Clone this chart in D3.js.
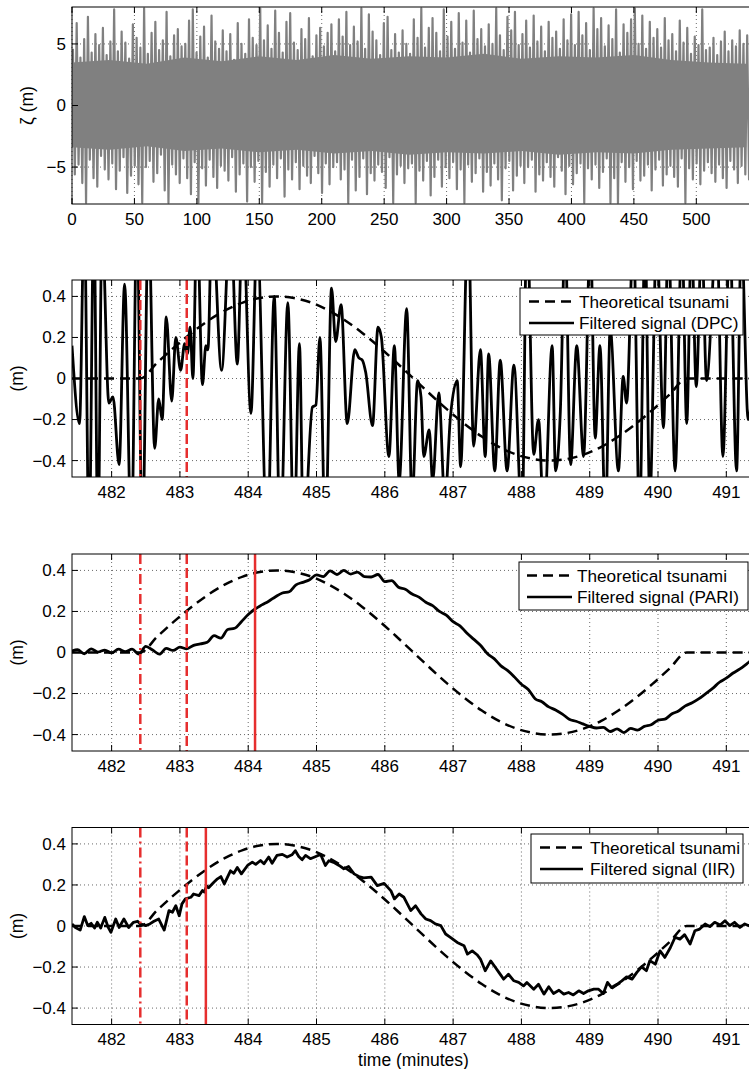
<!DOCTYPE html>
<html>
<head>
<meta charset="utf-8">
<script src="https://cdn.jsdelivr.net/npm/d3@7"></script>
<style>
body { margin: 0; background: #fff; }
text { font-family: "Liberation Sans", Arial, Helvetica, sans-serif; fill: #000; }
</style>
</head>
<body>
<script>
// ---- raw record, envelope per 3 minute bin (max, min)
var noiseBin = 3;
var noiseUpper = [4.6,6.7,3.9,5.4,7.2,4.3,5.8,4.9,6.3,4.1,
  5.2,7.8,4.4,6.0,5.1,3.8,6.6,5.5,4.7,7.9,
  4.2,5.9,6.8,4.5,5.3,7.6,4.0,5.7,6.2,4.8,
  5.0,6.9,7.8,4.3,5.6,6.4,3.9,7.3,5.2,4.6,
  6.1,4.4,5.8,3.7,6.7,5.0,4.2,7.0,5.5,4.9,
  7.9,5.3,6.5,4.6,7.7,5.9,4.3,6.8,7.5,5.1,
  4.5,6.2,5.4,7.1,4.0,5.7,6.3,4.8,5.9,6.6,
  4.4,7.0,5.6,7.6,4.9,6.4,5.2,7.9,4.6,7.4,
  6.0,5.3,4.1,6.7,7.2,4.5,5.8,4.3,6.1,5.0,
  4.2,7.0,5.5,7.9,4.7,6.3,7.1,5.9,4.4,7.8,
  5.6,6.8,4.6,7.5,5.1,6.9,4.3,7.7,5.4,6.2,
  4.8,6.6,5.0,7.9,5.7,4.5,7.2,6.1,7.6,4.9,
  5.8,6.9,4.7,7.3,5.2,6.4,4.4,6.8,5.5,6.0,
  4.6,7.0,5.3,7.4,4.9,7.6,5.7,6.7,4.5,7.9,
  6.2,7.1,4.8,6.5,5.4,7.8,4.3,6.6,5.9,7.0,
  7.9,5.0,7.3,4.6,6.8,5.5,6.2,4.7,7.1,5.3,
  5.8,4.4,6.9,5.1,6.3,4.2,5.6,4.9,7.8,4.5,
  4.7,5.5,4.1,5.2,6.0,4.4,5.3,4.8,6.1,5.0,
  5.7,4.6];
var noiseLower = [-5.6,-4.8,-6.3,-7.9,-4.4,-5.9,-6.6,-4.1,-5.2,-6.0,
  -4.7,-6.8,-5.3,-4.2,-7.1,-5.7,-4.9,-6.4,-7.9,-5.0,
  -4.5,-6.2,-5.5,-4.0,-6.9,-7.9,-4.8,-5.6,-6.3,-4.3,
  -5.9,-7.2,-4.6,-7.9,-5.1,-6.5,-4.4,-5.8,-6.7,-4.9,
  -5.3,-6.1,-4.2,-7.0,-5.6,-4.7,-7.8,-5.0,-6.2,-4.5,
  -7.9,-5.4,-6.6,-4.8,-5.9,-4.3,-7.4,-5.2,-6.0,-4.6,
  -6.8,-4.9,-5.7,-6.3,-4.1,-5.5,-7.1,-4.7,-6.4,-5.0,
  -4.6,-6.0,-5.2,-7.9,-4.4,-6.9,-5.8,-4.3,-7.2,-5.5,
  -6.1,-4.8,-5.4,-6.7,-4.2,-7.9,-5.6,-4.9,-6.3,-5.1,
  -4.7,-7.9,-5.3,-6.1,-4.5,-7.3,-5.8,-4.4,-6.6,-5.0,
  -5.9,-4.6,-6.8,-5.2,-7.9,-4.8,-6.2,-5.5,-4.3,-7.0,
  -5.4,-6.5,-4.7,-6.0,-7.7,-5.1,-4.5,-6.9,-5.7,-4.9,
  -6.3,-5.0,-4.4,-7.0,-5.6,-6.1,-4.6,-5.8,-6.6,-4.2,
  -5.3,-7.2,-4.9,-6.4,-5.5,-4.7,-7.9,-5.1,-6.0,-4.8,
  -6.7,-5.4,-4.3,-7.9,-5.9,-7.9,-4.6,-6.2,-5.0,-6.8,
  -4.5,-6.1,-5.7,-4.8,-6.9,-5.2,-4.4,-6.5,-5.6,-4.9,
  -5.8,-6.6,-4.3,-7.9,-5.1,-6.0,-4.7,-6.4,-5.3,-4.6,
  -5.5,-6.2,-4.8,-5.9,-6.7,-4.5,-5.2,-6.3,-4.9,-5.6,
  -6.0,-5.1];
// solid core of the record, every 30 minutes
var coreStep = 30;
var coreUpper = [3.5,3.7,3.4,3.9,3.6,4.0,3.7,4.1,3.8,4.0,3.9,4.2,3.8,4.0,3.9,4.1,3.7,3.5,3.4];
var coreLower = [-3.4,-3.6,-3.3,-3.7,-3.5,-3.8,-3.6,-3.9,-3.7,-4.0,-3.8,-3.9,-3.7,-4.0,-3.8,-3.9,-3.6,-3.5,-3.4];

// ---- theoretical tsunami
var tsuT = [481.42,482.42,482.67,482.92,483.17,483.42,483.67,483.92,484.17,484.42,
  484.67,484.92,485.17,485.42,485.67,485.92,486.17,486.42,486.67,486.92,487.17,
  487.42,487.67,487.92,488.17,488.42,488.67,488.92,489.17,489.42,489.67,489.92,
  490.17,490.42,491.5];
var tsuV = [0,0,0.078,0.153,0.222,0.283,0.333,0.370,0.392,0.400,
  0.392,0.370,0.333,0.283,0.222,0.153,0.078,0,-0.078,-0.153,-0.222,
  -0.283,-0.333,-0.370,-0.392,-0.400,-0.392,-0.370,-0.333,-0.283,-0.222,-0.153,
  -0.078,0,0];

// ---- filtered signal (DPC), turning points
var dpcT = [481.42,481.53,481.60,481.67,481.74,481.80,481.86,481.96,482.02,482.11,
  482.19,482.29,482.37,482.45,482.54,482.63,482.69,482.74,482.80,482.88,
  482.94,483.01,483.07,483.11,483.15,483.19,483.25,483.33,483.38,483.41,
  483.47,483.61,483.74,483.84,483.92,484.04,484.13,484.28,484.38,484.47,
  484.58,484.67,484.75,484.81,484.94,484.99,485.05,485.13,485.22,485.28,
  485.36,485.45,485.56,485.62,485.67,485.72,485.82,485.90,485.95,486.06,
  486.14,486.21,486.32,486.40,486.48,486.53,486.57,486.65,486.70,486.79,
  486.88,486.96,487.06,487.11,487.22,487.30,487.40,487.47,487.52,487.61,
  487.69,487.79,487.89,488.01,488.08,488.18,488.25,488.33,488.45,488.50,
  488.57,488.64,488.72,488.81,488.91,489.01,489.08,489.15,489.23,489.30,
  489.42,489.49,489.54,489.64,489.73,489.81,489.88,489.98,490.08,490.15,
  490.25,490.35,490.42,490.49,490.56,490.64,490.71,490.86,490.95,491.05,
  491.15,491.22,491.32,491.44];
var dpcV = [0.16,-0.22,0.8,-0.8,0.8,-0.8,0.75,-0.12,-0.09,-0.42,
  0.46,-0.8,0.8,-0.8,0.8,-0.34,-0.1,-0.2,0.30,-0.11,
  0.2,0.04,0.17,0.12,0.25,0.0,0.8,-0.03,0.16,0.14,
  0.8,0.04,0.8,0.07,0.8,-0.17,0.7,-0.8,0.4,-0.8,
  0.37,-0.8,0.17,-0.8,-0.14,-0.13,0.2,-0.8,0.44,0.18,
  0.36,-0.22,0.14,0.1,0.09,0.03,-0.23,0.25,0.2,-0.38,
  0.16,-0.5,0.34,-0.6,-0.01,-0.09,-0.38,-0.25,-0.5,-0.07,
  -0.6,-0.19,-0.01,-0.43,0.8,-0.33,0.14,-0.38,0.12,-0.45,
  0.09,-0.45,0.065,-0.7,0.8,-0.37,-0.2,-0.7,0.16,-0.45,
  -0.16,0.7,-0.42,0.16,-0.38,0.7,-0.29,0.16,-0.7,0.24,
  -0.45,0.01,-0.12,0.7,-0.7,0.7,-0.6,0.7,-0.24,0.7,
  -0.45,0.7,-0.22,0.7,-0.04,0.7,-0.01,0.7,-0.38,0.7,
  -0.45,0.7,-0.2,0.7];

// ---- filtered signal (PARI), every 0.1 min from 481.4
var pariStart = 481.4, pariStep = 0.1;
var pariV = [0.004,0.014,-0.006,0.018,0.002,0.012,-0.002,0.016,0.004,0.016,
  -0.008,0.03,0.012,-0.008,0.02,0.01,0.026,0.018,0.035,0.042,
  0.05,0.082,0.07,0.112,0.118,0.15,0.185,0.212,0.232,0.25,
  0.272,0.29,0.296,0.33,0.342,0.355,0.378,0.37,0.398,0.38,
  0.4,0.382,0.392,0.37,0.368,0.38,0.345,0.35,0.318,0.308,
  0.285,0.27,0.245,0.228,0.2,0.182,0.15,0.13,0.095,0.065,
  0.035,-0.005,-0.03,-0.065,-0.088,-0.12,-0.155,-0.18,-0.225,-0.24,
  -0.265,-0.28,-0.3,-0.325,-0.335,-0.348,-0.36,-0.368,-0.365,-0.385,
  -0.372,-0.39,-0.37,-0.378,-0.36,-0.352,-0.33,-0.325,-0.3,-0.285,
  -0.26,-0.245,-0.225,-0.2,-0.175,-0.145,-0.125,-0.1,-0.08,-0.055,
  -0.03,-0.01];

// ---- filtered signal (IIR)
var iirT = [481.42,481.47,481.54,481.60,481.65,481.70,481.75,481.79,481.84,481.90,
  481.95,481.99,482.06,482.11,482.18,482.25,482.32,482.38,482.42,482.50,
  482.56,482.62,482.69,482.77,482.84,482.89,482.94,482.99,483.03,483.08,
  483.16,483.20,483.28,483.33,483.36,483.39,483.42,483.50,483.55,483.60,
  483.65,483.74,483.79,483.84,483.90,483.99,484.06,484.11,484.18,484.23,
  484.30,484.35,484.42,484.50,484.57,484.64,484.69,484.74,484.79,484.84,
  484.91,484.99,485.06,485.13,485.18,485.25,485.33,485.40,485.47,485.55,
  485.62,485.69,485.80,485.89,485.99,486.09,486.14,486.21,486.28,486.38,
  486.45,486.53,486.60,486.67,486.74,486.82,486.89,486.96,487.06,487.16,
  487.21,487.28,487.35,487.40,487.47,487.55,487.62,487.67,487.74,487.81,
  487.89,487.96,488.03,488.08,488.18,488.25,488.33,488.40,488.47,488.55,
  488.62,488.69,488.76,488.84,488.91,488.98,489.06,489.13,489.20,489.26,
  489.32,489.40,489.47,489.54,489.62,489.69,489.76,489.83,489.88,489.96,
  490.03,490.10,490.18,490.25,490.32,490.39,490.47,490.54,490.61,490.69,
  490.76,490.83,490.91,490.98,491.05,491.12,491.20,491.27,491.32,491.45];
var iirV = [0.010,-0.007,-0.020,0.046,0.002,0.013,-0.010,0.018,-0.010,0.042,
  -0.007,-0.031,0.034,-0.007,0.034,-0.007,0.018,0.023,0.010,0.002,
  0.010,0.023,0.034,-0.020,0.075,0.067,0.099,0.050,0.108,0.132,
  0.140,0.156,0.148,0.173,0.165,0.196,0.186,0.214,0.230,0.241,
  0.205,0.269,0.257,0.285,0.254,0.295,0.311,0.300,0.319,0.303,
  0.336,0.306,0.344,0.349,0.336,0.347,0.367,0.339,0.323,0.344,
  0.328,0.339,0.349,0.295,0.318,0.310,0.295,0.279,0.290,0.254,
  0.241,0.235,0.238,0.197,0.208,0.171,0.132,0.156,0.140,0.075,
  0.099,0.059,0.034,0.026,0.010,0.002,-0.039,-0.055,-0.080,-0.096,
  -0.137,-0.121,-0.140,-0.161,-0.218,-0.170,-0.202,-0.226,-0.259,-0.235,
  -0.267,-0.275,-0.292,-0.275,-0.308,-0.284,-0.332,-0.296,-0.329,-0.313,
  -0.332,-0.324,-0.336,-0.316,-0.329,-0.316,-0.308,-0.308,-0.329,-0.275,
  -0.300,-0.284,-0.267,-0.248,-0.259,-0.226,-0.199,-0.218,-0.169,-0.186,
  -0.121,-0.153,-0.106,-0.055,-0.064,-0.042,-0.088,-0.023,-0.015,0.010,
  -0.003,0.018,0.005,0.026,0.002,0.018,-0.007,0.010,0.002,0.012];

// ---- detection markers (minutes)
var tOnset = 482.42, tArrival = 483.1;
var tDetect = { PARI: 484.1, IIR: 483.38 };

var xTicksFull = [0,50,100,150,200,250,300,350,400,450,500];
var yTicksFull = [-5,0,5];
var xTicksZoom = [482,483,484,485,486,487,488,489,490,491];
var yTicksZoom = [-0.4,-0.2,0,0.2,0.4];

var W = 749, H = 1069;
var left = 72, plotW = 683, plotH = 197;
var tops = [7, 280, 554, 827.5];
var red = '#e62e2e';

var svg = d3.select('body').append('svg')
  .attr('width', W)
  .attr('height', H);

var minus = function(v) { return String(v).replace('-', '\u2212'); };

function frame(i, x, y, xt, yt) {
  var g = svg.append('g').attr('transform', 'translate(' + left + ',' + tops[i] + ')');
  var clip = 'clip' + i;
  g.append('clipPath').attr('id', clip)
    .append('rect').attr('width', plotW).attr('height', plotH);

  var grid = g.append('g')
    .attr('stroke', '#444').attr('stroke-width', 0.8).attr('stroke-dasharray', '1,3');
  grid.selectAll('.gx').data(xt).enter().append('line')
    .attr('x1', function(d) { return x(d); }).attr('x2', function(d) { return x(d); })
    .attr('y1', 0).attr('y2', plotH);
  grid.selectAll('.gy').data(yt).enter().append('line')
    .attr('y1', function(d) { return y(d); }).attr('y2', function(d) { return y(d); })
    .attr('x1', 0).attr('x2', plotW);

  var plot = g.append('g').attr('clip-path', 'url(#' + clip + ')');
  return { g: g, plot: plot };
}

function axesOnTop(f, x, y, xt, yt) {
  var g = f.g;
  g.append('rect').attr('width', plotW).attr('height', plotH)
    .attr('fill', 'none').attr('stroke', '#000').attr('stroke-width', 1);
  var tk = g.append('g').attr('stroke', '#000').attr('stroke-width', 1);
  xt.forEach(function(d) {
    tk.append('line').attr('x1', x(d)).attr('x2', x(d)).attr('y1', plotH).attr('y2', plotH - 6);
    tk.append('line').attr('x1', x(d)).attr('x2', x(d)).attr('y1', 0).attr('y2', 6);
  });
  yt.forEach(function(d) {
    tk.append('line').attr('x1', 0).attr('x2', 6).attr('y1', y(d)).attr('y2', y(d));
    tk.append('line').attr('x1', plotW).attr('x2', plotW - 6).attr('y1', y(d)).attr('y2', y(d));
  });
  g.selectAll('.xl').data(xt).enter().append('text')
    .attr('x', function(d) { return x(d); })
    .attr('y', plotH + 15)
    .attr('dy', '0.35em')
    .style('text-anchor', 'middle')
    .style('font-size', '17px')
    .text(function(d) { return minus(d); });
  g.selectAll('.yl').data(yt).enter().append('text')
    .attr('x', -6)
    .attr('y', function(d) { return y(d); })
    .attr('dy', '0.35em')
    .style('text-anchor', 'end')
    .style('font-size', '17px')
    .text(function(d) { return minus(d); });
}

function ylabel(i, txt, cx) {
  svg.append('text')
    .attr('transform', 'translate(' + cx + ',' + (tops[i] + plotH / 2) + ') rotate(-90)')
    .attr('dy', '0.35em')
    .style('text-anchor', 'middle')
    .style('font-size', '17.5px')
    .text(txt);
}

function legend(box, label) {
  var g = svg.append('g');
  g.append('rect').attr('x', box.x).attr('y', box.y).attr('width', box.w).attr('height', box.h)
    .attr('fill', '#fff').attr('stroke', '#000').attr('stroke-width', 1);
  var rows = [
    { dash: '10,6', text: 'Theoretical tsunami', y: box.y + 13.5 },
    { dash: null, text: label, y: box.y + 35 }
  ];
  rows.forEach(function(r) {
    g.append('line').attr('x1', box.lx1).attr('x2', box.lx2).attr('y1', r.y).attr('y2', r.y)
      .attr('stroke', '#000').attr('stroke-width', 2.5)
      .attr('stroke-dasharray', r.dash);
    g.append('text').attr('x', box.tx).attr('y', r.y).attr('dy', '0.35em')
      .style('font-size', '17.2px').text(r.text);
  });
}

// ---- panel 1: raw record = solid core + oscillation through the bin extremes
var x0 = d3.scaleLinear().domain([0, 547]).range([0, plotW]);
var y0 = d3.scaleLinear().domain([-8, 8]).range([plotH, 0]);
var f0 = frame(0, x0, y0, xTicksFull, yTicksFull);
f0.plot.append('path')
  .datum(coreUpper)
  .attr('fill', '#808080')
  .attr('d', d3.area()
    .x(function(d, i) { return x0(i * coreStep); })
    .y0(function(d, i) { return y0(coreLower[i]); })
    .y1(function(d) { return y0(d); }));
var zig = [];
noiseUpper.forEach(function(u, i) {
  zig.push([i * noiseBin + noiseBin * 0.25, u]);
  zig.push([i * noiseBin + noiseBin * 0.75, noiseLower[i]]);
});
f0.plot.append('path')
  .datum(zig)
  .attr('fill', 'none')
  .attr('stroke', '#808080')
  .attr('stroke-width', 2.2)
  .attr('stroke-linejoin', 'round')
  .attr('d', d3.line().x(function(d) { return x0(d[0]); }).y(function(d) { return y0(d[1]); }));
axesOnTop(f0, x0, y0, xTicksFull, yTicksFull);
ylabel(0, '\u03b6 (m)', 27);

// ---- panels 2-4: zoom on the arrival
var xz = d3.scaleLinear().domain([481.42, 491.42]).range([0, plotW]);
var yz = d3.scaleLinear().domain([-0.48, 0.48]).range([plotH, 0]);

var tsunami = tsuT.map(function(t, i) { return [t, tsuV[i]]; });
var series = [
  { name: 'DPC', data: dpcT.map(function(t, i) { return [t, dpcV[i]]; }), curve: d3.curveMonotoneX,
    legend: { x: 520, y: 288, w: 223, h: 47, lx1: 529, lx2: 574, tx: 579 } },
  { name: 'PARI', data: pariV.map(function(v, i) { return [pariStart + i * pariStep, v]; }), curve: d3.curveMonotoneX,
    legend: { x: 519, y: 562, w: 229, h: 48, lx1: 527, lx2: 572, tx: 577 } },
  { name: 'IIR', data: iirT.map(function(t, i) { return [t, iirV[i]]; }), curve: d3.curveLinear,
    legend: { x: 531, y: 834, w: 212, h: 49, lx1: 540, lx2: 583, tx: 590 } }
];

series.forEach(function(s, k) {
  var i = k + 1;
  var f = frame(i, xz, yz, xTicksZoom, yTicksZoom);
  var line = d3.line().x(function(d) { return xz(d[0]); }).y(function(d) { return yz(d[1]); });

  f.plot.append('path').datum(tsunami)
    .attr('fill', 'none').attr('stroke', '#000').attr('stroke-width', 2.5)
    .attr('stroke-dasharray', '10,6')
    .attr('d', line.curve(d3.curveMonotoneX));

  f.plot.append('path').datum(s.data)
    .attr('fill', 'none').attr('stroke', '#000').attr('stroke-width', 2.8)
    .attr('stroke-linejoin', 'round')
    .attr('d', line.curve(s.curve));

  var marks = [{ t: tOnset, dash: '10,4,2,4' }, { t: tArrival, dash: '10,4' }];
  if (tDetect[s.name]) marks.push({ t: tDetect[s.name], dash: null });
  f.plot.selectAll('.mk').data(marks).enter().append('line')
    .attr('x1', function(d) { return xz(d.t); }).attr('x2', function(d) { return xz(d.t); })
    .attr('y1', 0).attr('y2', plotH)
    .attr('stroke', red).attr('stroke-width', 2.5)
    .attr('stroke-dasharray', function(d) { return d.dash; });

  axesOnTop(f, xz, yz, xTicksZoom, yTicksZoom);
  ylabel(i, '(m)', 16.5);
  legend(s.legend, 'Filtered signal (' + s.name + ')');
});

svg.append('text')
  .attr('x', left + plotW / 2)
  .attr('y', tops[3] + plotH + 35)
  .attr('dy', '0.35em')
  .style('text-anchor', 'middle')
  .style('font-size', '17.5px')
  .text('time (minutes)');
</script>
</body>
</html>
